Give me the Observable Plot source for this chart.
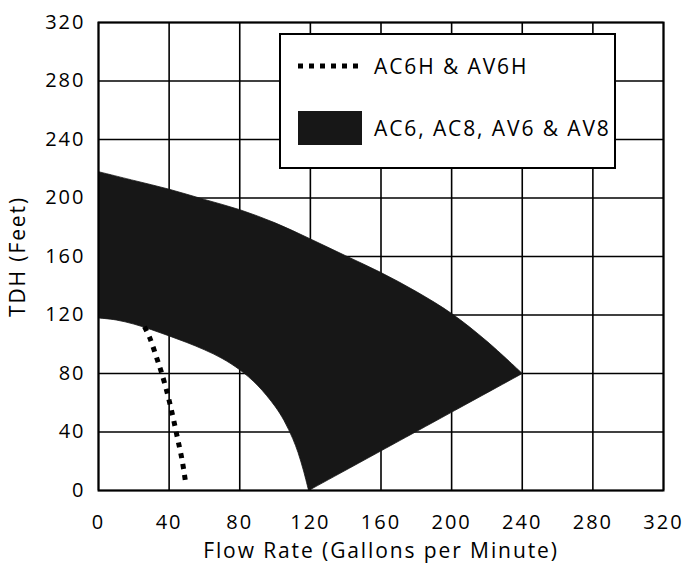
<!DOCTYPE html>
<html>
<head>
<meta charset="utf-8">
<script src="https://cdn.jsdelivr.net/npm/d3@7"></script>
<script src="https://cdn.jsdelivr.net/npm/@observablehq/plot@0.6"></script>
<style>
  body { margin: 0; background: #fff; }
  #wrap { position: relative; width: 684px; height: 568px; }
  #legend { position: absolute; left: 279px; top: 33px; width: 337px; height: 136px;
    background: #fff; border: 2px solid #000; box-sizing: border-box;
    font-family: "Open Sans", sans-serif; font-size: 21px; color: #000; }
  .item { position: absolute; left: 17px; display: flex; align-items: center; }
  .item span { margin-left: 12px; letter-spacing: 1.9px; }
  #wrap svg g[aria-label="x-axis tick label"] text,
  #wrap svg g[aria-label="y-axis tick label"] text { letter-spacing: 2px; }
  #wrap svg g[aria-label="x-axis label"] text,
  #wrap svg g[aria-label="y-axis label"] text { letter-spacing: 1.9px; font-size: 21px; }
</style>
</head>
<body>
<div id="wrap"></div>
<script>
// Axis ticks
const xTicks = [0, 40, 80, 120, 160, 200, 240, 280, 320];
const yTicks = [0, 40, 80, 120, 160, 200, 240, 280, 320];

// Series names
const seriesNames = ["AC6H & AV6H", "AC6, AC8, AV6 & AV8"];

// Band (AC6, AC8, AV6 & AV8): upper boundary
const upperX = [0,   20,  40,  60,  80,  100, 120, 140,   160, 180, 200, 220, 240];
const upperY = [218, 212, 206, 199, 192, 183, 172, 160.5, 149, 136, 121, 102, 80];
// Band: lower boundary (ends at the bottom tip; a straight edge joins it to the upper tip)
const lowerX = [0,   10,    20,    30,  40,    50,    60,   70,   80,   90, 100,  105, 110,  113, 116, 119];
const lowerY = [118, 116.6, 113.8, 110, 105.7, 101.2, 96.2, 90.3, 82.5, 72, 57.5, 48,  35.5, 26,  14,  0];

// Dotted curve (AC6H & AV6H)
const dotX = [26, 29, 33.5, 35.6, 39, 42, 44.7, 47.4, 49.5];
const dotY = [112, 104.5, 88.7, 81, 66.4, 51.2, 36, 20.5, 4];

// Closed outline of the band: upper edge left->right, sharp tip, straight edge, lower edge right->left.
// Corner points are repeated so the Catmull-Rom curve keeps them sharp.
const upperPts = upperX.map((x, i) => ({x, y: upperY[i]}));
const lowerPts = lowerX.map((x, i) => ({x, y: lowerY[i]})).reverse();
const band = [...upperPts, upperPts[upperPts.length - 1], lowerPts[0], ...lowerPts];
const dotted = dotX.map((x, i) => ({x, y: dotY[i]}));

const bandColor = "#171717";

const chart = Plot.plot({
  width: 684,
  height: 568,
  marginLeft: 98,
  marginRight: 21,
  marginTop: 22,
  marginBottom: 78,
  style: { fontFamily: "Open Sans, sans-serif", fontSize: "20px", color: "#000", background: "#fff", overflow: "visible" },
  x: { domain: [0, 320], ticks: xTicks, tickSize: 0, tickPadding: 24, tickFormat: d => String(d),
       label: "Flow Rate (Gallons per Minute)", labelAnchor: "center", labelOffset: 67, labelArrow: "none" },
  y: { domain: [0, 320], ticks: yTicks, tickSize: 0, tickPadding: 13, tickFormat: d => String(d),
       label: "TDH (Feet)", labelAnchor: "center", labelOffset: 88, labelArrow: "none" },
  marks: [
    Plot.ruleX(xTicks, { stroke: "#000", strokeWidth: 1.6, strokeOpacity: 1 }),
    Plot.ruleY(yTicks, { stroke: "#000", strokeWidth: 1.6, strokeOpacity: 1 }),
    Plot.line(band, { x: "x", y: "y", fill: bandColor, stroke: bandColor, strokeWidth: 0.8, curve: "catmull-rom" }),
    Plot.line(dotted, { x: "x", y: "y", stroke: "#000", strokeWidth: 5, strokeDasharray: "5,6", strokeLinecap: "butt", curve: "catmull-rom" }),
    Plot.frame({ stroke: "#000", strokeWidth: 2 })
  ]
});

const wrap = document.getElementById("wrap");
wrap.appendChild(chart);

const legend = document.createElement("div");
legend.id = "legend";
legend.innerHTML = `
  <div class="item" style="top:17px">
    <svg width="64" height="10"><line x1="0" y1="5" x2="64" y2="5" stroke="#000" stroke-width="5" stroke-dasharray="5,6"/></svg>
    <span>${seriesNames[0]}</span>
  </div>
  <div class="item" style="top:76px">
    <div style="width:64px;height:34px;background:${bandColor}"></div>
    <span>${seriesNames[1]}</span>
  </div>`;
wrap.appendChild(legend);
</script>
</body>
</html>
